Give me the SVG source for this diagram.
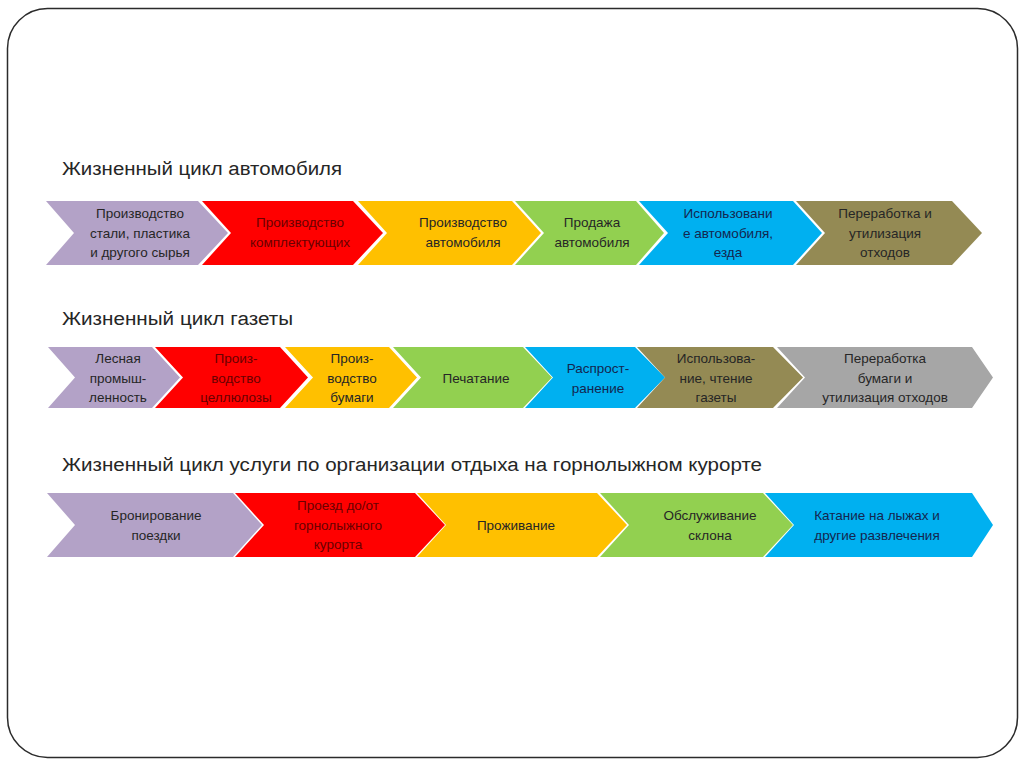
<svg xmlns="http://www.w3.org/2000/svg" width="1024" height="768" viewBox="0 0 1024 768">
<style>
.frame{fill:#fff;stroke:#2b2b2b;stroke-width:1.5}
.title{font-family:"Liberation Sans",Arial,sans-serif;font-size:18px;fill:#262626}
.lbl{font-family:"Liberation Sans",Arial,sans-serif;font-size:13.5px;text-anchor:middle;fill:#262626}
.purple{fill:#B3A2C7}.red{fill:#FF0000}.yellow{fill:#FFC000}.green{fill:#92D050}.blue{fill:#00B0F0}.olive{fill:#948A54}.gray{fill:#A6A6A6}
.tred{fill:#6a0000}.tblue{fill:#14264f}
</style>
<rect width="1024" height="768" fill="#fff"/>
<rect class="frame" x="7.5" y="8.5" width="1010" height="749" rx="40" ry="40"/>
<g id="titles">
<text class="title" x="62" y="175" textLength="280" lengthAdjust="spacingAndGlyphs">Жизненный цикл автомобиля</text>
<text class="title" x="62" y="325" textLength="231" lengthAdjust="spacingAndGlyphs">Жизненный цикл газеты</text>
<text class="title" x="62" y="471" textLength="700" lengthAdjust="spacingAndGlyphs">Жизненный цикл услуги по организации отдыха на горнолыжном курорте</text>
</g>
<g id="connectors"></g>
<!-- Row 1 -->
<g id="car1"><path class="purple" d="M46,201 L198,201 L228,233 L198,265 L46,265 L74,233 Z"/><text class="lbl" x="140" y="218">Производство</text><text class="lbl" x="140" y="238">стали, пластика</text><text class="lbl" x="140" y="257">и другого сырья</text></g>
<g id="car2"><path class="red" d="M202,201 L353,201 L383,233 L353,265 L202,265 L231,233 Z"/><text class="lbl tred" x="300" y="227">Производство</text><text class="lbl tred" x="300" y="247">комплектующих</text></g>
<g id="car3"><path class="yellow" d="M358,201 L512,201 L541,233 L512,265 L358,265 L387,233 Z"/><text class="lbl" x="463" y="227">Производство</text><text class="lbl" x="463" y="247">автомобиля</text></g>
<g id="car4"><path class="green" d="M515,201 L636,201 L664,233 L636,265 L515,265 L544,233 Z"/><text class="lbl" x="592" y="227">Продажа</text><text class="lbl" x="592" y="247">автомобиля</text></g>
<g id="car5"><path class="blue" d="M639,201 L793,201 L822,233 L793,265 L639,265 L668,233 Z"/><text class="lbl tblue" x="728" y="218">Использовани</text><text class="lbl tblue" x="728" y="238">е автомобиля,</text><text class="lbl tblue" x="728" y="257">езда</text></g>
<g id="car6"><path class="olive" d="M796,201 L952,201 L982,233 L952,265 L796,265 L825,233 Z"/><text class="lbl" x="885" y="218">Переработка и</text><text class="lbl" x="885" y="238">утилизация</text><text class="lbl" x="885" y="257">отходов</text></g>
<!-- Row 2 -->
<g id="paper1"><path class="purple" d="M48,347 L152,347 L180,377.5 L152,408 L48,408 L75,377.5 Z"/><text class="lbl" x="118" y="363">Лесная</text><text class="lbl" x="118" y="383">промыш-</text><text class="lbl" x="118" y="402">ленность</text></g>
<g id="paper2"><path class="red" d="M155,347 L280,347 L308,377.5 L280,408 L155,408 L183,377.5 Z"/><text class="lbl tred" x="236" y="363">Произ-</text><text class="lbl tred" x="236" y="383">водство</text><text class="lbl tred" x="236" y="402">целлюлозы</text></g>
<g id="paper3"><path class="yellow" d="M285,347 L389,347 L417,377.5 L389,408 L285,408 L313,377.5 Z"/><text class="lbl" x="352" y="363">Произ-</text><text class="lbl" x="352" y="383">водство</text><text class="lbl" x="352" y="402">бумаги</text></g>
<g id="paper4"><path class="green" d="M393,347 L523,347 L552,377.5 L523,408 L393,408 L421,377.5 Z"/><text class="lbl" x="476" y="383">Печатание</text></g>
<g id="paper5"><path class="blue" d="M525,347 L635,347 L665,377.5 L635,408 L525,408 L553,377.5 Z"/><text class="lbl tblue" x="598" y="373">Распрост-</text><text class="lbl tblue" x="598" y="393">ранение</text></g>
<g id="paper6"><path class="olive" d="M637,347 L773,347 L803,377.5 L773,408 L637,408 L665,377.5 Z"/><text class="lbl" x="716" y="363">Использова-</text><text class="lbl" x="716" y="383">ние, чтение</text><text class="lbl" x="716" y="402">газеты</text></g>
<g id="paper7"><path class="gray" d="M777,347 L972,347 L993,377.5 L972,408 L777,408 L805,377.5 Z"/><text class="lbl" x="885" y="363">Переработка</text><text class="lbl" x="885" y="383">бумаги и</text><text class="lbl" x="885" y="402">утилизация отходов</text></g>
<!-- Row 3 -->
<g id="ski1"><path class="purple" d="M47,493 L233,493 L262,525 L233,557 L47,557 L75,525 Z"/><text class="lbl" x="156" y="520">Бронирование</text><text class="lbl" x="156" y="540">поездки</text></g>
<g id="ski2"><path class="red" d="M235,493 L415,493 L445,525 L415,557 L235,557 L264,525 Z"/><text class="lbl tred" x="338" y="510">Проезд до/от</text><text class="lbl tred" x="338" y="530">горнолыжного</text><text class="lbl tred" x="338" y="549">курорта</text></g>
<g id="ski3"><path class="yellow" d="M417,493 L597,493 L627,525 L597,557 L417,557 L446,525 Z"/><text class="lbl" x="516" y="530">Проживание</text></g>
<g id="ski4"><path class="green" d="M600,493 L763,493 L793,525 L763,557 L600,557 L629,525 Z"/><text class="lbl" x="710" y="520">Обслуживание</text><text class="lbl" x="710" y="540">склона</text></g>
<g id="ski5"><path class="blue" d="M765,493 L972,493 L993,525 L972,557 L765,557 L794,525 Z"/><text class="lbl tblue" x="877" y="520">Катание на лыжах и</text><text class="lbl tblue" x="877" y="540">другие развлечения</text></g>
</svg>
